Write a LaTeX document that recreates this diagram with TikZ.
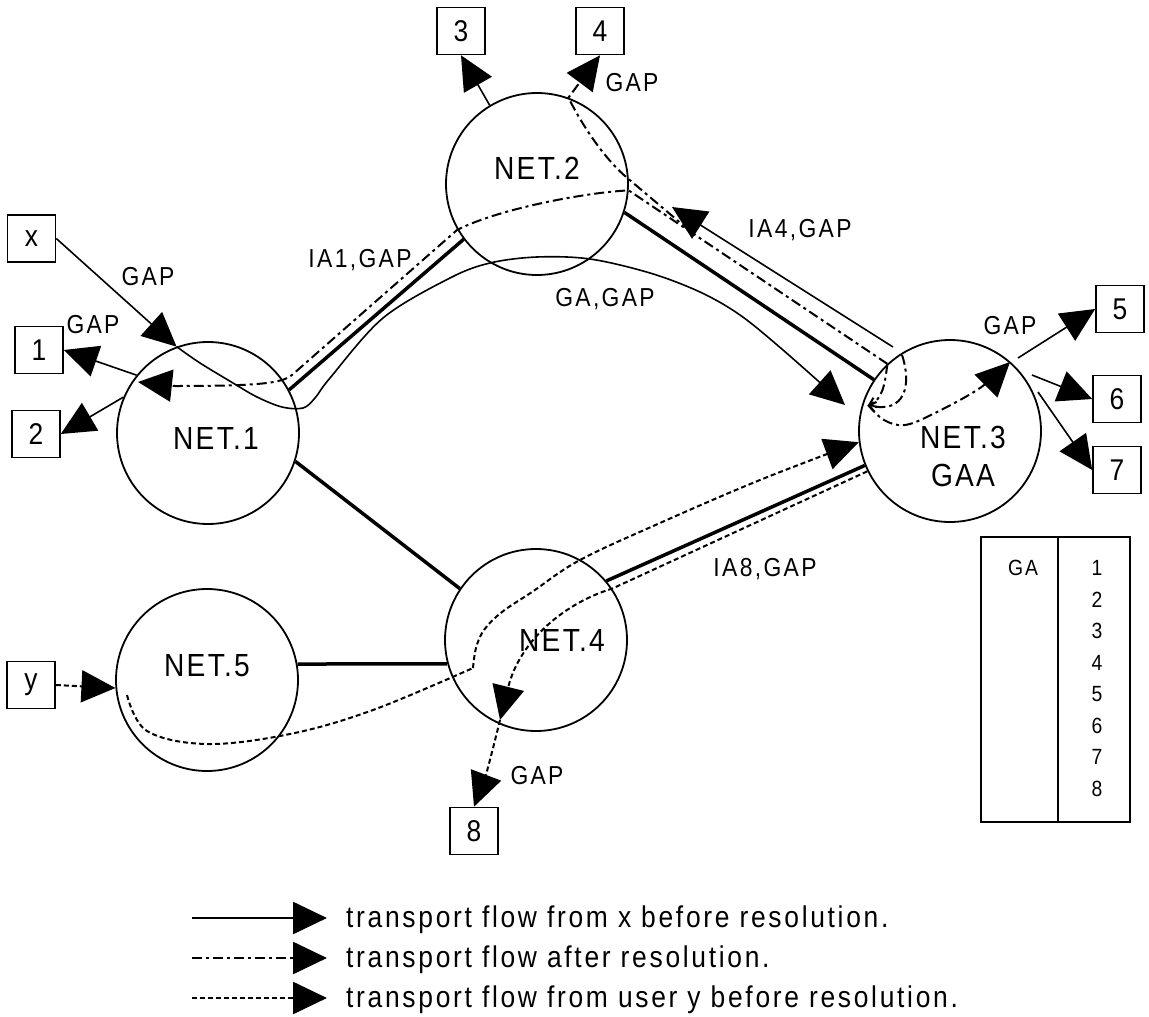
\documentclass[tikz,border=0pt]{standalone}
\usepackage{fontspec}
\setmainfont{Liberation Sans}
\newfontfamily\legfont[FakeStretch=0.88,LetterSpace=9]{Liberation Sans}
\newfontfamily\lblfont[FakeStretch=0.88,LetterSpace=9]{Liberation Sans}
\newfontfamily\netfont[FakeStretch=0.88,LetterSpace=7]{Liberation Sans}
\usetikzlibrary{arrows.meta}
\begin{document}
\begin{tikzpicture}[x=1pt,y=-1pt,
  net/.style={circle, draw, line width=1.8pt, minimum size=182pt, inner sep=0pt},
  box/.style={draw, line width=1.6pt, minimum width=48pt, minimum height=47pt, inner sep=0pt, font=\netfont\fontsize{30}{30}\selectfont},
  lbl/.style={font=\lblfont\fontsize{26}{26}\selectfont, inner sep=0pt, text depth=0pt},
  nettxt/.style={font=\netfont\fontsize{32}{38}\selectfont, inner sep=0pt, text depth=0pt},
  tabtxt/.style={font=\lblfont\fontsize{22}{22}\selectfont, inner sep=0pt, text depth=0pt},
  legtxt/.style={font=\legfont\fontsize{30}{30}\selectfont, inner sep=0pt},
  flowx/.style={line width=1.6pt},
  link/.style={line width=3.5pt},
  ddot/.style={line width=2pt, dash pattern=on 10pt off 4pt on 3pt off 4pt},
  udot/.style={line width=2pt, dash pattern=on 5pt off 3pt},
  big/.style={-{Triangle[length=34pt,width=32pt]}},
  small/.style={-{Straight Barb[length=6pt,width=10pt]}}
]
\useasboundingbox (0,0) rectangle (1149,1017);

% networks
\node[net] (n1) at (208,433) {};
\node[net] (n2) at (537,184) {};
\node[net] (n3) at (950,431) {};
\node[net] (n4) at (536,640) {};
\node[net] (n5) at (207,680) {};
\node[nettxt] (t1) at (216,438) {NET.1};
\node[nettxt] (t2) at (537,168) {NET.2};
\node[nettxt, align=center] (t3) at (963,456) {NET.3\\GAA};
\node[nettxt] (t4) at (562,640) {NET.4};
\node[nettxt] (t5) at (207,665) {NET.5};

% boxes
\node[box] (bx) at (31.5,238.5) {x};
\node[box] (b1) at (39,350) {1};
\node[box] (b2) at (36,434) {2};
\node[box] (b3) at (461,31) {3};
\node[box] (b4) at (600,31) {4};
\node[box] (b5) at (1120,309) {5};
\node[box] (b6) at (1117,399) {6};
\node[box] (b7) at (1117,470) {7};
\node[box] (b8) at (474,831) {8};
\node[box] (by) at (31,685) {y};

% table
\node[draw, line width=2pt, minimum width=149pt, minimum height=285pt, inner sep=0pt] (tab) at (1055.5,679.5) {};
\coordinate (dv) at (1058,0);
\draw[line width=2pt] (tab.north -| dv) -- (tab.south -| dv);
\node[tabtxt] (ga) at (1023,568) {GA};
\foreach \i in {1,...,8}{
  \node[tabtxt] (num\i) at (1097,{568+31.5*(\i-1)}) {\i};
}

% labels
\node[lbl] (lg1) at (148,276) {GAP};
\node[lbl] (lg2) at (93,324) {GAP};
\node[lbl] (lia1) at (360,258) {IA1,GAP};
\node[lbl] (lga) at (605,297) {GA,GAP};
\node[lbl] (lia4) at (800,228) {IA4,GAP};
\node[lbl] (lg4) at (632,82) {GAP};
\node[lbl] (lg5) at (1010,325) {GAP};
\node[lbl] (lia8) at (765,567) {IA8,GAP};
\node[lbl] (lg8) at (537,775) {GAP};

% thick links
\draw[link] (n1.28) -- (n2.217);
\draw[link] (n2.342) -- (n3.146);
\draw[link] (n1.342) -- (n4.146);
\draw[link] (n5.10) -- (n4.195);
\draw[link] (n4.40) -- (n3.202);

% free coordinates
\coordinate (w0) at (n1.110);
\coordinate (gatip) at (845,405);
\coordinate (rs) at (893,347);
\coordinate (rt) at (672,207);
\coordinate (a1) at (457,230);
\coordinate (a2) at (292,375);
\coordinate (a3) at (175,386);
\coordinate (a4) at (138,382);
\coordinate (sa) at (868,405);
\coordinate (l2) at (902,355);
\coordinate (g5tip) at (1010,362);
\coordinate (bb) at (690,231);
\coordinate (s5) at (1018,358);
\coordinate (s6) at (1032,375);
\coordinate (s7) at (1038,392);
\coordinate (y0) at (127,695);
\coordinate (yk) at (473,668);
\coordinate (m1) at (500,720);

% solid thin flow from x
\draw[flowx, big] (bx.east) -- (w0);
\draw[flowx, big] plot[smooth, tension=0.55] coordinates {(w0) (200,363) (233,383) (257,397) (282,407) (303,408) (315,398) (330,378) (383,318) (450,278) (490,263) (537,257) (590,259) (650,273) (700,292) (740,315) (783,350) (gatip)};
\draw[flowx, big] (rs) -- (rt);

% arrows to boxes
\draw[flowx, big] (n1.141) -- (b1.east);
\draw[flowx, big] (n1.157) -- (b2.east);
\draw[flowx, big] (n2.121) -- (b3.south);
\draw[flowx, big] (s5) -- (b5.west);
\draw[flowx, big] (s6) -- (b6.west);
\draw[flowx, big] (s7) -- (b7.west);

% dash-dot flow after resolution
\draw[ddot, big] (n3.133) -- (n2.356) .. controls (590,192) and (500,208) .. (a1) -- (a2) .. controls (282,383) and (262,386) .. (a3) -- (a4);
\draw[ddot, big] (bb) -- (n2.3) .. controls (605,160) and (582,125) .. (n2.70) -- (b4.south);
\draw[ddot, small] (n3.133) .. controls (885,385) and (882,400) .. (sa);
\draw[ddot, small] (l2) .. controls (912,385) and (905,414) .. (sa);
\draw[ddot, big] plot[smooth, tension=0.6] coordinates {(sa) (884,420) (905,425) (935,413) (980,388) (g5tip)};

% dotted flow from user y
\draw[udot, big] (by.east) -- (n5.185);
\draw[udot] plot[smooth, tension=0.6] coordinates {(y0) (147,731) (207,744) (290,734) (373,710) (yk)};
\draw[udot, big] plot[smooth, tension=0.6] coordinates {(yk) (476,648) (484,630) (502,612) (532,592) (580,560) (660,523) (760,480) (n3.187)};
\draw[udot, big] (n3.206) -- (n4.34) .. controls (565,603) and (520,640) .. (m1);
\draw[udot, big] (m1) .. controls (494,745) and (486,775) .. (b8.north);

% legend
\coordinate (L1s) at (192,918); \coordinate (L1e) at (327,918);
\coordinate (L2s) at (192,958); \coordinate (L2e) at (327,958);
\coordinate (L3s) at (192,998); \coordinate (L3e) at (327,998);
\draw[flowx, line width=2.5pt, big] (L1s) -- (L1e);
\draw[ddot, line width=2.5pt, big] (L2s) -- (L2e);
\draw[udot, line width=2.5pt, big] (L3s) -- (L3e);
\node[legtxt, anchor=base west] (lt1) at (346,927) {transport flow from x before resolution.};
\node[legtxt, anchor=base west] (lt2) at (346,967) {transport flow after resolution.};
\node[legtxt, anchor=base west] (lt3) at (346,1007) {transport flow from user y before resolution.};
\end{tikzpicture}
\end{document}
